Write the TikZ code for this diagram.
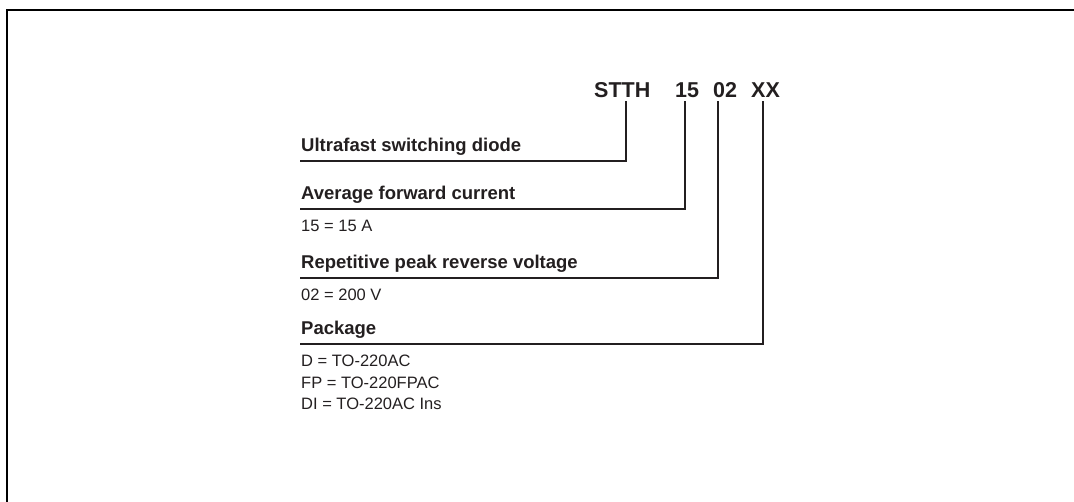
\documentclass[tikz,border=0pt]{standalone}
\usepackage{fontspec}
\setmainfont{Liberation Sans}
\begin{document}
\begin{tikzpicture}[x=1pt,y=-1pt,
  hdr/.style={inner sep=0pt,anchor=base west,font=\fontsize{21.5}{24}\selectfont\bfseries,text=ink},
  lbl/.style={inner sep=0pt,anchor=base west,font=\fontsize{18.5}{21}\selectfont\bfseries,text=ink},
  val/.style={inner sep=0pt,anchor=base west,font=\fontsize{16.5}{19}\selectfont,text=ink},
  conn/.style={draw=ink,line width=2pt,line join=miter,line cap=rect},
  frame/.style={draw=black,line width=2.5pt}]
\definecolor{ink}{HTML}{231F20}
\useasboundingbox (0,0) rectangle (1074,502);
\draw[frame] (7,502) -- (7,10) -- (1074,10);
% header
\node[hdr] (h1) at (594,98) {STTH};
\node[hdr] (h2) at (675,98) {15};
\node[hdr] (h3) at (713,98) {02};
\node[hdr] (h4) at (751,98) {XX};
% labels
\node[lbl] (l1) at (301,152) {Ultrafast switching diode};
\node[lbl] (l2) at (301,200) {Average forward current};
\node[val] (v2) at (301,232) {15 = 15 A};
\node[lbl] (l3) at (301,269) {Repetitive peak reverse voltage};
\node[val] (v3) at (301,301) {02 = 200 V};
\node[lbl] (l4) at (301,335) {Package};
\node[val] (v4a) at (301,367) {D = TO-220AC};
\node[val] (v4b) at (301,388.5) {FP = TO-220FPAC};
\node[val] (v4c) at (301,410) {DI = TO-220AC Ins};
% corners
\coordinate (c1) at (626,161);
\coordinate (c2) at (685,209);
\coordinate (c3) at (718,278);
\coordinate (c4) at (763,344);
\draw[conn] ([yshift=-4pt]h1.south -| c1) -- (c1) -- (c1 -| l1.west);
\draw[conn] ([yshift=-4pt]h2.south -| c2) -- (c2) -- (c2 -| l2.west);
\draw[conn] ([yshift=-4pt]h3.south -| c3) -- (c3) -- (c3 -| l3.west);
\draw[conn] ([yshift=-4pt]h4.south -| c4) -- (c4) -- (c4 -| l4.west);
\end{tikzpicture}
\end{document}
